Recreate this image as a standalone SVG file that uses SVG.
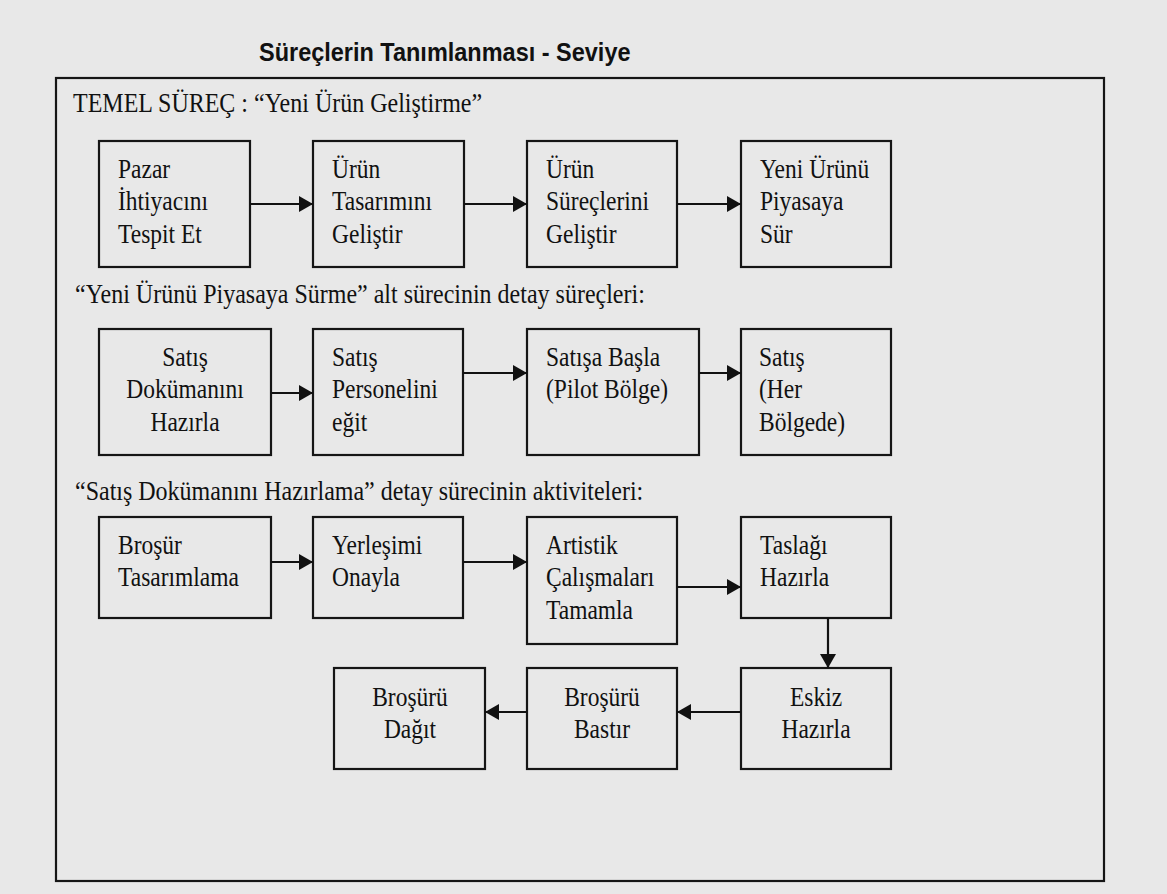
<svg xmlns="http://www.w3.org/2000/svg" width="1167" height="894" viewBox="0 0 1167 894">
  <defs>
    <marker id="arrow" viewBox="0 0 14 16" refX="14" refY="8" markerWidth="14" markerHeight="16" markerUnits="userSpaceOnUse" orient="auto">
      <path d="M0,0 L14,8 L0,16 Z" fill="#111"/>
    </marker>
    <style>
      .box { fill: none; stroke: #151515; stroke-width: 2.2; }
      .frame { fill: none; stroke: #151515; stroke-width: 2.2; }
      .t { font-family: "Liberation Serif", "Times New Roman", serif; font-size: 23.5px; fill: #111; }
      .cap { font-family: "Liberation Serif", "Times New Roman", serif; font-size: 24px; fill: #111; }
      .c { text-anchor: middle; }
      .title { font-family: "Liberation Sans", Arial, sans-serif; font-weight: bold; font-size: 23.5px; fill: #111; }
      .conn line { stroke: #111; stroke-width: 2.2; marker-end: url(#arrow); }
    </style>
  </defs>

  <rect width="1167" height="894" fill="#e8e8e8"/>

  <!-- heading and outer frame (glyphs are drawn slightly tall: scale 1 x 1.14) -->
  <text class="title" transform="translate(259,61) scale(1,1.08)">Süreçlerin Tanımlanması - Seviye</text>
  <rect class="frame" x="56" y="78" width="1048" height="803"/>

  <!-- section captions -->
  <text class="cap" transform="translate(73,112) scale(1,1.12)">TEMEL SÜREÇ : “Yeni Ürün Geliştirme”</text>
  <text class="cap" transform="translate(75,303) scale(1,1.12)">“Yeni Ürünü Piyasaya Sürme” alt sürecinin detay süreçleri:</text>
  <text class="cap" transform="translate(75,500) scale(1,1.12)">“Satış Dokümanını Hazırlama” detay sürecinin aktiviteleri:</text>

  <!-- level 1: main process -->
  <g id="pazar">
    <rect class="box" x="99" y="141" width="151" height="126"/>
    <text class="t" transform="translate(118,178) scale(1,1.12)">Pazar<tspan x="0" dy="29">İhtiyacını</tspan><tspan x="0" dy="29">Tespit Et</tspan></text>
  </g>
  <g id="urun-tasarim">
    <rect class="box" x="313" y="141" width="151" height="126"/>
    <text class="t" transform="translate(332,178) scale(1,1.12)">Ürün<tspan x="0" dy="29">Tasarımını</tspan><tspan x="0" dy="29">Geliştir</tspan></text>
  </g>
  <g id="urun-surec">
    <rect class="box" x="527" y="141" width="150" height="126"/>
    <text class="t" transform="translate(546,178) scale(1,1.12)">Ürün<tspan x="0" dy="29">Süreçlerini</tspan><tspan x="0" dy="29">Geliştir</tspan></text>
  </g>
  <g id="piyasaya-sur">
    <rect class="box" x="741" y="141" width="150" height="126"/>
    <text class="t" transform="translate(760,178) scale(1,1.12)">Yeni Ürünü<tspan x="0" dy="29">Piyasaya</tspan><tspan x="0" dy="29">Sür</tspan></text>
  </g>

  <!-- level 2: launch sub-process -->
  <g id="dokuman">
    <rect class="box" x="99" y="329" width="172" height="126"/>
    <text class="t c" transform="translate(185,366) scale(1,1.12)">Satış<tspan x="0" dy="29">Dokümanını</tspan><tspan x="0" dy="29">Hazırla</tspan></text>
  </g>
  <g id="personel">
    <rect class="box" x="313" y="329" width="150" height="126"/>
    <text class="t" transform="translate(332,366) scale(1,1.12)">Satış<tspan x="0" dy="29">Personelini</tspan><tspan x="0" dy="29">eğit</tspan></text>
  </g>
  <g id="pilot">
    <rect class="box" x="527" y="329" width="172" height="126"/>
    <text class="t" transform="translate(546,366) scale(1,1.12)">Satışa Başla<tspan x="0" dy="29">(Pilot Bölge)</tspan></text>
  </g>
  <g id="her-bolge">
    <rect class="box" x="741" y="329" width="150" height="126"/>
    <text class="t" transform="translate(759,366) scale(1,1.12)">Satış<tspan x="0" dy="29">(Her</tspan><tspan x="0" dy="29">Bölgede)</tspan></text>
  </g>

  <!-- level 3: brochure activities -->
  <g id="brosur-tasarim">
    <rect class="box" x="99" y="517" width="172" height="101"/>
    <text class="t" transform="translate(118,554) scale(1,1.12)">Broşür<tspan x="0" dy="29">Tasarımlama</tspan></text>
  </g>
  <g id="yerlesim">
    <rect class="box" x="313" y="517" width="150" height="101"/>
    <text class="t" transform="translate(332,554) scale(1,1.12)">Yerleşimi<tspan x="0" dy="29">Onayla</tspan></text>
  </g>
  <g id="artistik">
    <rect class="box" x="527" y="517" width="150" height="127"/>
    <text class="t" transform="translate(546,554) scale(1,1.12)">Artistik<tspan x="0" dy="29">Çalışmaları</tspan><tspan x="0" dy="29">Tamamla</tspan></text>
  </g>
  <g id="taslak">
    <rect class="box" x="741" y="517" width="150" height="101"/>
    <text class="t" transform="translate(760,554) scale(1,1.12)">Taslağı<tspan x="0" dy="29">Hazırla</tspan></text>
  </g>
  <g id="eskiz">
    <rect class="box" x="741" y="668" width="150" height="101"/>
    <text class="t c" transform="translate(816,706) scale(1,1.12)">Eskiz<tspan x="0" dy="28.6">Hazırla</tspan></text>
  </g>
  <g id="bastir">
    <rect class="box" x="527" y="668" width="150" height="101"/>
    <text class="t c" transform="translate(602,706) scale(1,1.12)">Broşürü<tspan x="0" dy="28.6">Bastır</tspan></text>
  </g>
  <g id="dagit">
    <rect class="box" x="334" y="668" width="151" height="101"/>
    <text class="t c" transform="translate(410,706) scale(1,1.12)">Broşürü<tspan x="0" dy="28.6">Dağıt</tspan></text>
  </g>

  <!-- connectors -->
  <g class="conn">
    <line x1="250" y1="204" x2="313" y2="204"/>
    <line x1="464" y1="204" x2="527" y2="204"/>
    <line x1="677" y1="204" x2="741" y2="204"/>

    <line x1="271" y1="393" x2="313" y2="393"/>
    <line x1="463" y1="373" x2="527" y2="373"/>
    <line x1="699" y1="373" x2="741" y2="373"/>

    <line x1="271" y1="562" x2="313" y2="562"/>
    <line x1="463" y1="562" x2="527" y2="562"/>
    <line x1="677" y1="587" x2="741" y2="587"/>
    <line x1="828" y1="618" x2="828" y2="668"/>
    <line x1="741" y1="712" x2="677" y2="712"/>
    <line x1="527" y1="712" x2="485" y2="712"/>
  </g>
</svg>
